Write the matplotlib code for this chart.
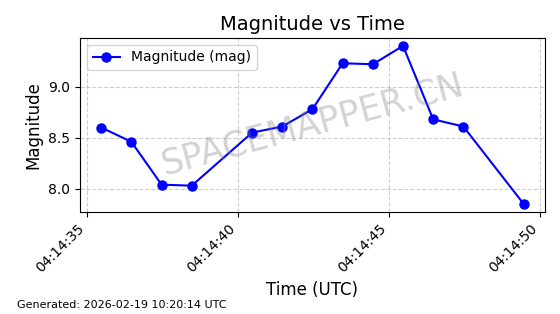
import datetime as dt
import matplotlib
matplotlib.use("Agg")
import matplotlib.pyplot as plt
import matplotlib.dates as mdates

# Данные: время (секунды после 04:14:35) и звёздная величина
t0 = dt.datetime(2026, 2, 19, 4, 14, 35)
seconds = [0.46, 1.46, 2.46, 3.46, 5.46, 6.46, 7.46, 8.46, 9.46, 10.46, 11.46, 12.46, 14.46]
magnitude = [8.60, 8.46, 8.04, 8.03, 8.55, 8.61, 8.78, 9.23, 9.22, 9.40, 8.68, 8.61, 7.85]
times = [t0 + dt.timedelta(seconds=s) for s in seconds]

DPI = 100
fig = plt.figure(figsize=(560 / DPI, 314 / DPI), dpi=DPI)
ax = fig.add_axes([0.143, 0.325, 0.830, 0.554])

ax.plot(times, magnitude, marker="o", color="blue", linewidth=1.5,
        markersize=6.5, label="Magnitude (mag)")
ax.set_title("Magnitude vs Time", fontsize=14)
ax.set_xlabel("Time (UTC)", fontsize=12)
ax.set_ylabel("Magnitude", fontsize=12)
ax.grid(True, linestyle="--", alpha=0.6)
ax.legend(loc="upper left")

ax.xaxis.set_major_locator(mdates.SecondLocator(bysecond=range(0, 60, 5)))
ax.xaxis.set_major_formatter(mdates.DateFormatter("%H:%M:%S"))
plt.setp(ax.get_xticklabels(), rotation=45, ha="right")

# Водяной знак
ax.text(0.5, 0.5, "SPACEMAPPER.CN", transform=ax.transAxes, fontsize=25,
        color="gray", alpha=0.35, rotation=15, ha="center", va="center")

fig.text(0.03, 0.02, "Generated: 2026-02-19 10:20:14 UTC", fontsize=8)

fig.savefig("out.png", dpi=DPI)
plt.close(fig)
